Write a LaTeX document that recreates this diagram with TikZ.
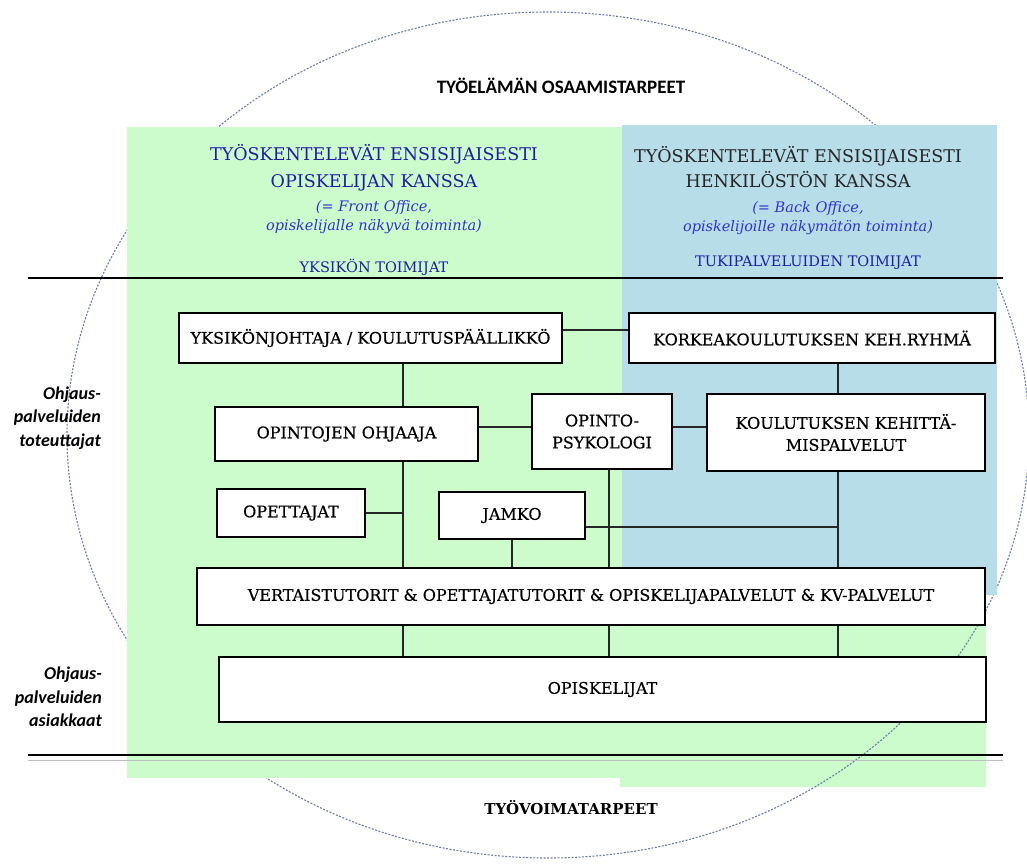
\documentclass[tikz,border=0pt]{standalone}
\usepackage{fontspec}
\setmainfont{DejaVu Serif}
\newfontfamily\calib{Carlito}
\newfontfamily\boxfont[FakeBold=0.5]{DejaVu Serif}
\definecolor{panelgreen}{RGB}{204,252,204}
\definecolor{panelblue}{RGB}{183,221,232}
\definecolor{titleblue}{RGB}{30,30,165}
\definecolor{noteblue}{RGB}{50,50,205}
\definecolor{ringgray}{RGB}{110,125,155}

\begin{document}
\begin{tikzpicture}[x=1pt,y=-1pt]
        \useasboundingbox (0,0) rectangle (1027,865);

        % taustat
        \fill[panelgreen] (620,595) rectangle (986,787);
        \draw[ringgray, line width=1.1pt, dash pattern=on 2pt off 1.5pt]
          (548,435) ellipse [x radius=481pt, y radius=423pt];
        \fill[panelgreen] (127,127) rectangle (622,778);
        \fill[panelblue] (622,125) rectangle (997,595);

        \draw[line width=1.4pt] (28,278) -- (1003,278);
        \draw[line width=1.4pt] (28,755) -- (1003,755);
        \draw[black!25, line width=0.8pt] (28,760) -- (1003,760);

        % otsikot
        \begin{scope}[every node/.style={align=center, inner sep=0pt}]
          \node[font=\calib\bfseries\fontsize{19}{22}\selectfont] (tyoelama) at (561,86) {TYÖELÄMÄN OSAAMISTARPEET};
          \node[font=\bfseries\fontsize{15}{20}\selectfont] (tyovoima) at (571,808) {TYÖVOIMATARPEET};

          \node[titleblue, font=\fontsize{17.5}{27}\selectfont] (front) at (374,168) {TYÖSKENTELEVÄT ENSISIJAISESTI\\OPISKELIJAN KANSSA};
          \node[noteblue, font=\itshape\fontsize{14.5}{19}\selectfont] (frontnote) at (374,217) {(= Front Office,\\opiskelijalle näkyvä toiminta)};
          \node[titleblue, font=\fontsize{14.5}{18}\selectfont] (frontgroup) at (374,267) {YKSIKÖN TOIMIJAT};

          \node[black!85, font=\fontsize{17.5}{25}\selectfont] (back) at (798,167) {TYÖSKENTELEVÄT ENSISIJAISESTI\\HENKILÖSTÖN KANSSA};
          \node[noteblue, font=\itshape\fontsize{14.5}{19}\selectfont] (backnote) at (808,218) {(= Back Office,\\opiskelijoille näkymätön toiminta)};
          \node[titleblue, font=\fontsize{14.5}{18}\selectfont] (backgroup) at (808,263) {TUKIPALVELUIDEN TOIMIJAT};

          \node[anchor=east, align=right, font=\calib\bfseries\itshape\fontsize{18}{23.5}\selectfont] (toteuttajat) at (101,418) {Ohjaus-\\palveluiden\\toteuttajat};
          \node[anchor=east, align=right, font=\calib\bfseries\itshape\fontsize{18}{23.5}\selectfont] (asiakkaat) at (102,697) {Ohjaus-\\palveluiden\\asiakkaat};
        \end{scope}

        % laatikot
        \begin{scope}[every node/.style={draw, fill=white, line width=1.3pt, inner sep=0pt, align=center,
                                         font=\boxfont\fontsize{16}{22}\selectfont}]
          \node[minimum width=383pt, minimum height=50pt] (johtaja)     at (370.5,338) {YKSIKÖNJOHTAJA / KOULUTUSPÄÄLLIKKÖ};
          \node[minimum width=366pt, minimum height=50pt] (kehryhma)    at (812,338)   {KORKEAKOULUTUKSEN KEH.RYHMÄ};
          \node[minimum width=263pt, minimum height=54pt] (ohjaaja)     at (346.5,434) {OPINTOJEN OHJAAJA};
          \node[minimum width=140pt, minimum height=75pt] (psykologi)   at (602,431.5) {OPINTO-\\PSYKOLOGI};
          \node[minimum width=278pt, minimum height=77pt] (kehpalvelut) at (846,432.5) {KOULUTUKSEN KEHITTÄ-\\MISPALVELUT};
          \node[minimum width=148pt, minimum height=48pt] (opettajat)   at (291,513)   {OPETTAJAT};
          \node[minimum width=146pt, minimum height=47pt] (jamko)       at (512,515.5) {JAMKO};
          \node[minimum width=788pt, minimum height=57pt] (tutorit)     at (591,596.5) {VERTAISTUTORIT \& OPETTAJATUTORIT \& OPISKELIJAPALVELUT \& KV-PALVELUT};
          \node[minimum width=767pt, minimum height=65pt] (opiskelijat) at (602.5,689.5) {OPISKELIJAT};
        \end{scope}

        % yhteydet
        \coordinate (x1) at (403,0);
        \coordinate (x3) at (609,0);
        \coordinate (x4) at (838,0);
        \coordinate (y1) at (0,330);
        \coordinate (y2) at (0,427);
        \coordinate (y3) at (0,527);

        \begin{scope}[line width=1.1pt, black!85]
          \draw (johtaja.east |- y1) -- (kehryhma.west |- y1);
          \draw (johtaja.south -| x1) -- (ohjaaja.north -| x1);
          \draw (ohjaaja.south -| x1) -- (tutorit.north -| x1);
          \draw (ohjaaja.east |- y2) -- (psykologi.west |- y2);
          \draw (psykologi.east |- y2) -- (kehpalvelut.west |- y2);
          \draw (kehryhma.south -| x4) -- (kehpalvelut.north -| x4);
          \draw (kehpalvelut.south -| x4) -- (tutorit.north -| x4);
          \draw (opettajat.east) -- (opettajat.east -| x1);
          \draw (psykologi.south -| x3) -- (tutorit.north -| x3);
          \draw (jamko.east |- y3) -- (x4 |- y3);
          \draw (jamko.south) -- (tutorit.north -| jamko.south);
          \draw (tutorit.south -| x1) -- (opiskelijat.north -| x1);
          \draw (tutorit.south -| x3) -- (opiskelijat.north -| x3);
          \draw (tutorit.south -| x4) -- (opiskelijat.north -| x4);
        \end{scope}

      \end{tikzpicture}
\end{document}
